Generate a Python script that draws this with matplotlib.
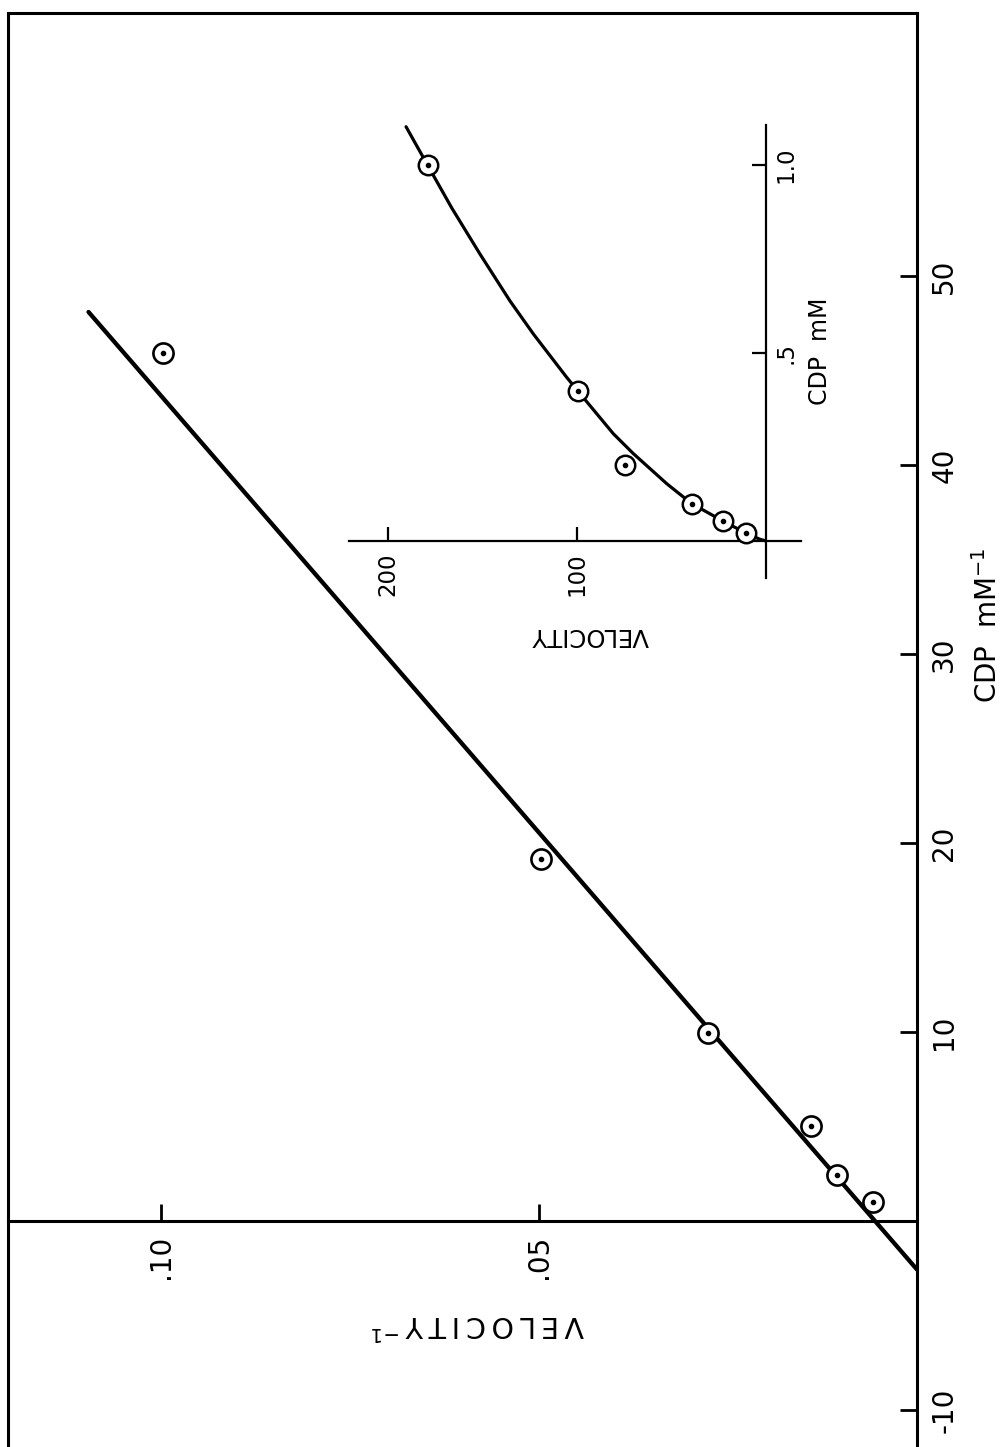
import matplotlib
matplotlib.use("Agg")
import matplotlib.pyplot as plt
import numpy as np

plt.rcParams['font.family'] = ['DejaVu Sans']

# Double-reciprocal (Lineweaver-Burk) data: 1/[CDP] (mM^-1) and 1/velocity
recip_cdp = [0.99, 2.43, 5.03, 9.96, 19.14, 45.93]
recip_vel = [0.00586, 0.01062, 0.01406, 0.02761, 0.04978, 0.09969]

# Fitted straight line: 1/v = intercept + slope * (1/[CDP])
fit_intercept = 0.00556
fit_slope = 0.002162
fit_cdp_range = [-2.57, 48.1]

# Inset: velocity against CDP concentration (mM)
sub_cdp = [0.021, 0.052, 0.099, 0.2006, 0.399, 0.998]
sub_vel = [10.6, 22.4, 39.2, 74.5, 99.2, 178.9]

# Hand-drawn saturation curve through the inset points
curve_vel = [0.0, 3.0, 10.6, 22.4, 39.2, 52.4, 70.1, 80.7, 97.4, 105.4,
             123.0, 135.4, 151.2, 166.2, 178.9, 190.4]
curve_cdp = [0.0, 0.004, 0.021, 0.052, 0.099, 0.152, 0.232, 0.285, 0.386, 0.435,
             0.550, 0.638, 0.762, 0.885, 0.998, 1.101]

main_xticks = [0.05, 0.10]
main_xlabels = ['.05', '.10']
main_yticks = [-10, 10, 20, 30, 40, 50]
main_ylabels = ['-10', '10', '20', '30', '40', '50']
inset_xticks = [100, 200]
inset_xlabels = ['100', '200']
inset_yticks = [0.5, 1.0]
inset_ylabels = ['.5', '1.0']

W, H = 1008, 1447
DPI = 100
fig = plt.figure(figsize=(W / DPI, H / DPI), dpi=DPI)


def rect(l, t, r, b):
    return [l / W, 1 - b / H, (r - l) / W, (b - t) / H]


def ftext(x, y, s, **kw):
    kw.setdefault('ha', 'center')
    kw.setdefault('va', 'center')
    return fig.text(x / W, 1 - y / H, s, **kw)


def spaced(word):
    """Letter-spaced lettering using thin spaces between the letters."""
    return '\u2009'.join(word)


# ---- main plot (drawn turned on its side) ----
ax = fig.add_axes(rect(8, 13, 917, 1460))
ax.set_xlim(0.1202, 0.0)
ax.set_ylim(-12.65, 63.92)
ax.patch.set_alpha(0)

for side in ['left', 'top', 'right']:
    ax.spines[side].set_linewidth(2.2)
ax.spines['bottom'].set_position(('data', 0))
ax.spines['bottom'].set_linewidth(2.2)

ax.yaxis.tick_right()
ax.set_xticks(main_xticks)
ax.set_xticklabels(main_xlabels)
ax.set_yticks(main_yticks)
ax.set_yticklabels(main_ylabels)
ax.tick_params(axis='x', direction='in', length=12, width=2, pad=10,
               labelsize=20, labelrotation=90)
ax.tick_params(axis='y', direction='in', length=12, width=2, pad=9.5,
               labelsize=20, labelrotation=90)
for lbl in ax.get_yticklabels():
    lbl.set_va('center')

c_line = np.array(fit_cdp_range)
ax.plot(fit_intercept + fit_slope * c_line, c_line, color='black', lw=3.1,
        solid_capstyle='round', zorder=3)
ax.plot(recip_vel, recip_cdp, 'o', ms=14.5, mfc='white', mec='black', mew=1.9,
        zorder=4)
ax.plot(recip_vel, recip_cdp, 'o', ms=3, color='black', zorder=5)

ftext(478, 1324, spaced('VELOCITY') + '\u2009' + r'$\mathregular{^{-1}}$',
      rotation=180, fontsize=20.5)
ftext(988, 625, r'CDP  mM$\mathregular{^{-1}}$', rotation=90, fontsize=20)

# ---- inset: velocity against [CDP] ----
ins = fig.add_axes(rect(349, 125, 800.7, 578))
ins.set_xlim(220.6, -18.53)
ins.set_ylim(-0.0988, 1.1056)
ins.patch.set_alpha(0)
ins.spines['top'].set_visible(False)
ins.spines['left'].set_visible(False)
ins.spines['bottom'].set_position(('data', 0))
ins.spines['right'].set_position(('data', 0))
ins.spines['bottom'].set_linewidth(1.6)
ins.spines['right'].set_linewidth(1.6)
ins.yaxis.tick_right()
ins.set_xticks(inset_xticks)
ins.set_xticklabels(inset_xlabels)
ins.set_yticks(inset_yticks)
ins.set_yticklabels(inset_ylabels)
ins.tick_params(axis='x', direction='in', length=10, width=1.6, pad=8.5,
                labelsize=16.5, labelrotation=90)
ins.tick_params(axis='y', direction='in', length=10, width=1.6, pad=6.5,
                labelsize=16.5, labelrotation=90)
for lbl in ins.get_yticklabels():
    lbl.set_va('center')

ins.plot(curve_vel, curve_cdp, color='black', lw=2.3, solid_capstyle='round',
         solid_joinstyle='round', zorder=3, clip_on=False)
ins.plot(sub_vel, sub_cdp, 'o', ms=14, mfc='white', mec='black', mew=1.8,
         zorder=4, clip_on=False)
ins.plot(sub_vel, sub_cdp, 'o', ms=3, color='black', zorder=5, clip_on=False)

ftext(590, 635, 'VELOCITY', rotation=180, fontsize=17.5)
ftext(820, 351, 'CDP  mM', rotation=90, fontsize=17)

fig.savefig('out.png', dpi=DPI, facecolor='white')
